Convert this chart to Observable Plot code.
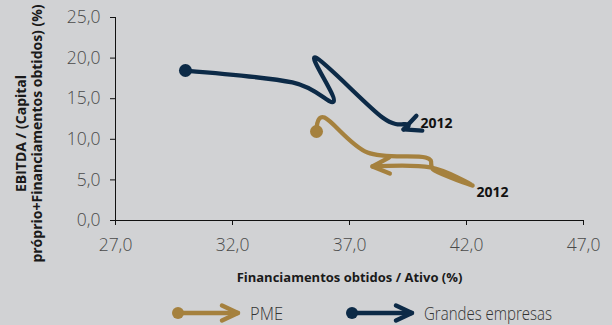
<!DOCTYPE html>
<html><head><meta charset="utf-8">
<script src="https://cdn.jsdelivr.net/npm/d3@7"></script>
<script src="https://cdn.jsdelivr.net/npm/@observablehq/plot@0.6"></script>
<style>
html,body{margin:0;padding:0;background:#d1d2d4;}
#wrap{position:relative;width:612px;height:325px;overflow:hidden;background:#d1d2d4;}
#chart svg{display:block;}
#chart svg g[aria-label$="tick label"] text, #chart svg g[aria-label$="tick label"]{fill:#4a4a4a;}
#chart svg g[aria-label="x-axis"] text, #chart svg g[aria-label="y-axis"] text{fill:#4a4a4a;}
#legend{position:relative;height:28px;}
.item{position:absolute;top:2px;height:28px;display:flex;align-items:center;}
.item span{display:inline-block;font-family:"Open Sans",sans-serif;font-weight:300;font-size:18px;color:#333;margin-left:6px;transform-origin:0 50%;white-space:nowrap;}
</style></head>
<body><div id="wrap"><div id="chart"></div><div id="legend"></div></div>
<script>
// Series: PME (SMEs) and Grandes empresas (large firms)
const pmeX = [35.59, 35.93, 37.77, 40.25, 40.63, 42.26, 40.46, 37.98];
const pmeY = [10.96, 12.68, 8.37, 7.76, 6.16, 4.31, 6.53, 6.65];
const pmeLabel = ["", "", "", "", "", "2012", "", ""];
const geX = [29.99, 34.56, 36.32, 35.55, 38.41, 39.48, 39.31];
const geY = [18.47, 17.0, 14.66, 20.07, 12.68, 11.82, 11.21];
const geLabel = ["", "", "", "", "", "2012", ""];
const seriesNames = ["PME", "Grandes empresas"];
const colors = ["#a5813e", "#0c2a47"];
const xTicks = [27, 32, 37, 42, 47];
const yTicks = [0, 5, 10, 15, 20, 25];
const xTitle = "Financiamentos obtidos / Ativo (%)";
const yTitle = "EBITDA / (Capital\npróprio+Financiamentos obtidos) (%)";

const fmt = d => d.toFixed(1).replace(".", ",");
const pme = pmeX.map((x, i) => ({x, y: pmeY[i], label: pmeLabel[i]}));
const ge = geX.map((x, i) => ({x, y: geY[i], label: geLabel[i]}));
const SW = 4.3;

const plot = Plot.plot({
  width: 612, height: 297,
  marginLeft: 115, marginRight: 29, marginTop: 17, marginBottom: 77,
  style: {background: "transparent", fontFamily: "'Open Sans', sans-serif", fontSize: "17.5px", fontWeight: 300, color: "#111"},
  x: {domain: [27, 47], ticks: xTicks, tickFormat: fmt, tickSize: 5, tickPadding: 13, label: null},
  y: {domain: [0, 25], ticks: yTicks, tickFormat: fmt, tickSize: 5, tickPadding: 10, label: null},
  marks: [
    Plot.ruleX([27], {stroke: "#111"}),
    Plot.ruleY([0], {stroke: "#111"}),
    Plot.line(ge, {x: "x", y: "y", stroke: colors[1], strokeWidth: SW, curve: "cardinal",
      markerStart: "dot", markerEnd: "arrow", strokeLinecap: "round", strokeLinejoin: "round"}),
    Plot.line(pme, {x: "x", y: "y", stroke: colors[0], strokeWidth: SW, curve: "cardinal",
      markerStart: "dot", markerEnd: "arrow", strokeLinecap: "round", strokeLinejoin: "round"}),
    Plot.text(ge.filter(d => d.label), {x: "x", y: "y", text: "label", dx: 13, dy: -1, textAnchor: "start",
      fontSize: 14, fontWeight: "bold", fill: "#111"}),
    Plot.text(pme.filter(d => d.label), {x: "x", y: "y", text: "label", dx: 4, dy: 7, textAnchor: "start",
      fontSize: 14, fontWeight: "bold", fill: "#111"}),
    Plot.text([xTitle], {frameAnchor: "bottom", text: d => d, dy: 61, fontSize: 13, fontWeight: "bold", fill: "#1a1a1a"}),
    Plot.text([yTitle], {frameAnchor: "left", text: d => d, textAnchor: "middle", lineAnchor: "middle",
      dx: -86.5, dy: 14.5, rotate: -90, lineHeight: 1.1,
      fontSize: 14, fontWeight: "bold", fill: "#1a1a1a"})
  ]
});

plot.querySelectorAll("marker").forEach(m => {
  if (m.querySelector("circle")) {
    const w = 2.6 * 10 / SW;
    m.setAttribute("markerWidth", w); m.setAttribute("markerHeight", w);
  } else {
    const s = 5;
    const w = s * 10 / SW;
    m.setAttribute("markerWidth", w); m.setAttribute("markerHeight", w);
    m.setAttribute("stroke-width", SW / s);
    m.querySelector("path").setAttribute("d", "M-3.4,-1.6L0,0L-3.4,1.6");
  }
});
document.getElementById("chart").appendChild(plot);

// Legend
const legend = d3.select("#legend");
const lefts = [172, 346];
const textWidths = [33, 128];
seriesNames.forEach((name, i) => {
  const item = legend.append("div").attr("class", "item").style("left", lefts[i] + "px");
  const s = item.append("svg").attr("width", 72).attr("height", 20);
  s.append("line").attr("x1", 6).attr("x2", 66).attr("y1", 10).attr("y2", 10)
    .attr("stroke", colors[i]).attr("stroke-width", SW).attr("stroke-linecap", "round");
  s.append("circle").attr("cx", 6).attr("cy", 10).attr("r", 6).attr("fill", colors[i]);
  s.append("polyline").attr("points", "50,2.5 66,10 50,17.5").attr("fill", "none")
    .attr("stroke", colors[i]).attr("stroke-width", SW).attr("stroke-linecap", "round").attr("stroke-linejoin", "round");
  const span = item.append("span").text(name);
  const w = span.node().getBoundingClientRect().width;
  span.style("transform", `scaleX(${textWidths[i] / w})`);
});
</script></body></html>
